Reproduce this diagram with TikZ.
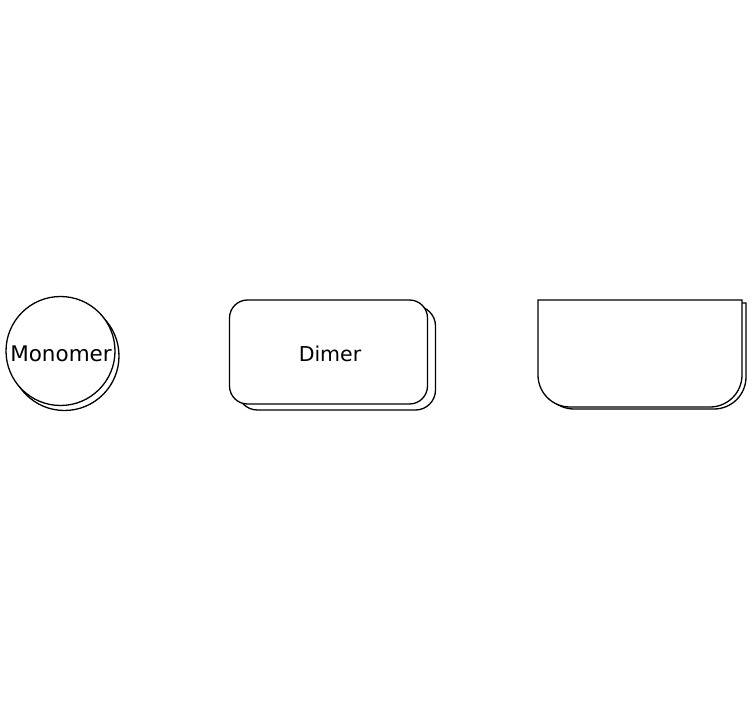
\documentclass[tikz,border=0pt]{standalone}
\usepackage{fontspec}
\setmainfont{DejaVu Sans}
\begin{document}
\begin{tikzpicture}[x=1pt,y=-1pt,
  outl/.style={draw=black,line width=1.3pt,fill=white},
  lbl/.style={inner sep=0pt}]
\useasboundingbox (0,0) rectangle (752,708);
% Monomer
\node[outl,circle,minimum size=109pt,inner sep=0pt] (monoS) at (64.5,356) {};
\node[outl,circle,minimum size=109pt,inner sep=0pt] (mono) at (60.5,351) {};
\node[lbl,font=\fontsize{21.5}{24}\selectfont] (monoT) at (61,354) {Monomer};
% Dimer
\node[outl,rectangle,rounded corners=20pt,minimum width=198pt,minimum height=104pt] (dimS) at (336.5,358) {};
\node[outl,rectangle,rounded corners=18pt,minimum width=198pt,minimum height=104pt] (dim) at (328.5,352) {};
\node[lbl,font=\fontsize{20.5}{24}\selectfont] (dimT) at (330,354) {Dimer};
% Third shape
\coordinate (cS) at (644,356);
\coordinate (c) at (640,353.5);
\draw[outl] ([shift={(-102,-53)}]cS) -- ([shift={(102,-53)}]cS) -- ([shift={(102,21)}]cS)
  [rounded corners=32pt] -- ([shift={(102,53)}]cS) -- ([shift={(-102,53)}]cS) [sharp corners] -- ([shift={(-102,21)}]cS) -- cycle;
\draw[outl] ([shift={(-102,-53.5)}]c) -- ([shift={(102,-53.5)}]c) -- ([shift={(102,21)}]c)
  [rounded corners=32pt] -- ([shift={(102,53.5)}]c) -- ([shift={(-102,53.5)}]c) [sharp corners] -- ([shift={(-102,21)}]c) -- cycle;
\end{tikzpicture}
\end{document}
